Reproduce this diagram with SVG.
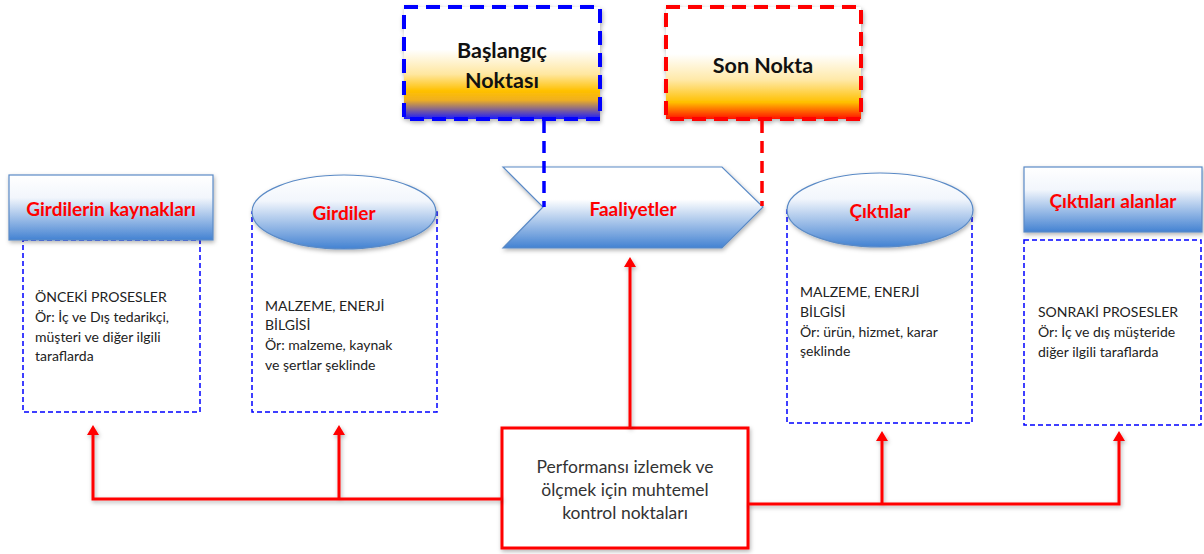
<svg xmlns="http://www.w3.org/2000/svg" width="1204" height="554" viewBox="0 0 1204 554">
<defs>
<linearGradient id="gBlue" x1="0" y1="0" x2="0" y2="1">
<stop offset="0" stop-color="#ffffff"/>
<stop offset="0.35" stop-color="#f2f6fc"/>
<stop offset="1" stop-color="#4382d2"/>
</linearGradient>
<linearGradient id="gChev" x1="0" y1="0" x2="0" y2="1">
<stop offset="0" stop-color="#ffffff"/>
<stop offset="0.4" stop-color="#ffffff"/>
<stop offset="1" stop-color="#4382d2"/>
</linearGradient>
<linearGradient id="gStart" x1="0" y1="0" x2="0" y2="1">
<stop offset="0" stop-color="#ffffff"/>
<stop offset="0.38" stop-color="#ffffff"/>
<stop offset="0.6" stop-color="#ffe7a0"/>
<stop offset="0.75" stop-color="#ffc000"/>
<stop offset="0.83" stop-color="#f0b020"/>
<stop offset="1" stop-color="#1a1aff"/>
</linearGradient>
<linearGradient id="gEnd" x1="0" y1="0" x2="0" y2="1">
<stop offset="0" stop-color="#ffffff"/>
<stop offset="0.42" stop-color="#ffffff"/>
<stop offset="0.65" stop-color="#ffe9a8"/>
<stop offset="0.85" stop-color="#ffc000"/>
<stop offset="1" stop-color="#ff1000"/>
</linearGradient>
<filter id="sh" x="-10%" y="-10%" width="130%" height="140%">
<feDropShadow dx="1" dy="2" stdDeviation="2" flood-color="#000" flood-opacity="0.3"/>
</filter>
</defs>
<style>
.hdr{fill:url(#gBlue);stroke:#5a8ac6;stroke-width:1.2}
.dash{fill:#ffffff;stroke:#0000ff;stroke-width:1.5;stroke-dasharray:5 3}
.ttl{font-family:Lato,"Liberation Sans",sans-serif;font-weight:bold;font-size:19px;fill:#ff0000;text-anchor:middle}
.ttlk{font-family:Lato,"Liberation Sans",sans-serif;font-weight:bold;font-size:21.5px;fill:#111111;text-anchor:middle}
.body{font-family:Lato,"Liberation Sans",sans-serif;font-size:14px;fill:#222222}
.ctr{font-family:Lato,"Liberation Sans",sans-serif;font-size:17.5px;fill:#333333;text-anchor:middle}
.red{fill:none;stroke:#ff0000;stroke-width:3;stroke-linejoin:miter}
</style>

<g id="baslangic">
<rect x="404" y="7" width="196" height="112" fill="url(#gStart)" stroke="#0000ff" stroke-width="4" stroke-dasharray="14 8" filter="url(#sh)"/>
<text class="ttlk" x="502" y="58">Başlangıç</text>
<text class="ttlk" x="502" y="88">Noktası</text>
</g>

<g id="sonnokta">
<rect x="666" y="7" width="195" height="112" fill="url(#gEnd)" stroke="#ff0000" stroke-width="4" stroke-dasharray="14 8" filter="url(#sh)"/>
<text class="ttlk" x="763" y="73">Son Nokta</text>
</g>

<g id="kaynaklar">
<rect class="dash" x="23" y="240" width="177" height="172"/>
<rect class="hdr" x="9" y="175" width="204" height="65" filter="url(#sh)"/>
<text class="ttl" x="111" y="216">Girdilerin kaynakları</text>
<text class="body" x="35" y="302">ÖNCEKİ PROSESLER</text>
<text class="body" x="35" y="322">Ör: İç ve Dış tedarikçi,</text>
<text class="body" x="35" y="342">müşteri ve diğer ilgili</text>
<text class="body" x="35" y="361">taraflarda</text>
</g>

<g id="girdiler">
<rect class="dash" x="252" y="212" width="185" height="200"/>
<ellipse cx="344" cy="212" rx="92" ry="37" fill="url(#gBlue)" stroke="#5a8ac6" stroke-width="1.2" filter="url(#sh)"/>
<text class="ttl" x="344" y="220">Girdiler</text>
<text class="body" x="265" y="311">MALZEME, ENERJİ</text>
<text class="body" x="265" y="330">BİLGİSİ</text>
<text class="body" x="265" y="350">Ör: malzeme, kaynak</text>
<text class="body" x="265" y="370">ve şertlar şeklinde</text>
</g>

<g id="faaliyetler">
<polygon points="503,167 722,167 763,207 722,248 503,248 543,207" fill="url(#gChev)" stroke="#5a8ac6" stroke-width="1.2" filter="url(#sh)"/>
<text class="ttl" x="633" y="216">Faaliyetler</text>
</g>

<g id="ciktilar">
<rect class="dash" x="787" y="210" width="185" height="213"/>
<ellipse cx="880" cy="210" rx="93" ry="37" fill="url(#gBlue)" stroke="#5a8ac6" stroke-width="1.2" filter="url(#sh)"/>
<text class="ttl" x="880" y="218">Çıktılar</text>
<text class="body" x="800" y="297">MALZEME, ENERJİ</text>
<text class="body" x="800" y="317">BİLGİSİ</text>
<text class="body" x="800" y="337">Ör: ürün, hizmet, karar</text>
<text class="body" x="800" y="356">şeklinde</text>
</g>

<g id="alanlar">
<rect class="dash" x="1024" y="240" width="177" height="185"/>
<rect class="hdr" x="1024" y="167" width="178" height="65" filter="url(#sh)"/>
<text class="ttl" x="1113" y="208">Çıktıları alanlar</text>
<text class="body" x="1038" y="317">SONRAKİ PROSESLER</text>
<text class="body" x="1038" y="337">Ör: İç ve dış müşteride</text>
<text class="body" x="1038" y="357">diğer ilgili taraflarda</text>
</g>

<g id="kontrol">
<rect x="502" y="428" width="246" height="120" fill="#ffffff" stroke="#ff0000" stroke-width="3" filter="url(#sh)"/>
<text class="ctr" x="625" y="473">Performansı izlemek ve</text>
<text class="ctr" x="625" y="496">ölçmek için muhtemel</text>
<text class="ctr" x="625" y="519">kontrol noktaları</text>
</g>

<g id="connectors">
<line x1="544" y1="121" x2="544" y2="207" stroke="#0000ff" stroke-width="3.5" stroke-dasharray="12 8"/>
<line x1="762" y1="121" x2="762" y2="206" stroke="#ff0000" stroke-width="3.5" stroke-dasharray="12 8"/>
<g filter="url(#sh)">
<polyline class="red" points="630,428 630,266"/>
<polyline class="red" points="502,499 93,499 93,434"/>
<polyline class="red" points="339,499 339,434"/>
<polyline class="red" points="748,504 1119,504 1119,440"/>
<polyline class="red" points="882,504 882,440"/>
<path d="M624,267 L630,257 L636,267 Z M87,435 L93,425 L99,435 Z M333,435 L339,425 L345,435 Z M876,441 L882,431 L888,441 Z M1113,441 L1119,431 L1125,441 Z" fill="#ff0000"/>
</g>
</g>
</svg>
